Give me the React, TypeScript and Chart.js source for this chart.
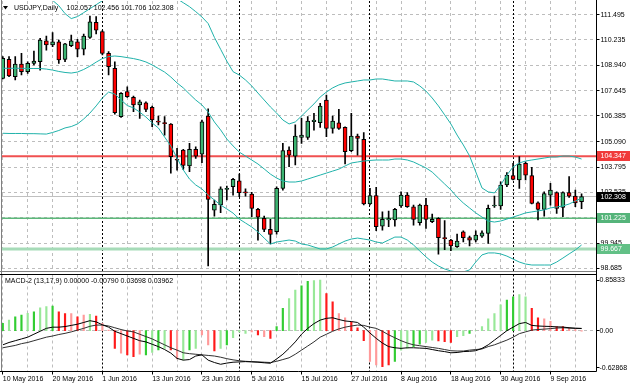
import React, { useEffect, useRef } from "react";
import { Chart, registerables } from "chart.js";

Chart.register(...registerables);

const FONT_FAMILY = '"Liberation Sans", Arial, sans-serif';
const FONT = `7px ${FONT_FAMILY}`;

// ---------------- data ----------------
const dateLabels = ["10 May 2016", "20 May 2016", "1 Jun 2016", "13 Jun 2016", "23 Jun 2016", "5 Jul 2016", "15 Jul 2016", "27 Jul 2016", "8 Aug 2016", "18 Aug 2016", "30 Aug 2016", "9 Sep 2016"];
const dateLabelBars = [0, 8, 16, 24, 32, 40, 48, 56, 64, 72, 80, 88];
const gridBars = [0, 4, 8, 12, 16, 20, 24, 28, 32, 36, 40, 44, 48, 52, 56, 60, 64, 68, 72, 76, 80, 84, 88, 92];
const separatorBars = [16, 38, 59, 82];
const priceTicks = [111.495, 110.235, 108.94, 107.645, 106.385, 105.09, 103.795, 102.535, 101.24, 99.945, 98.685];
const macdTicks = [0.85833, 0, -0.62868];
const macdTickLabels = ["0.85833", "0.00", "-0.62868"];
const resistanceLevel = 104.347;
const supportLevel = 101.225;
const lowerSupportLevel = 99.667;
const lastPrice = 102.308;
const titleSymbol = "USDJPY,Daily";
const titleValues = "102.057 102.456 101.706 102.308";
const macdTitle = "MACD-2 (13,17,9) 0.00000 -0.00790 0.03698 0.03962";

const openPrices = [108.28, 109.24, 108.37, 109.0, 108.62, 109.04, 109.12, 110.18, 109.97, 110.13, 109.24, 109.93, 110.13, 109.75, 110.35, 111.11, 110.64, 109.54, 108.79, 106.35, 107.61, 107.32, 106.94, 107.05, 106.82, 106.1, 106.02, 105.98, 104.17, 104.66, 103.86, 104.7, 104.45, 106.38, 101.63, 101.89, 102.68, 102.81, 103.11, 102.52, 102.44, 101.67, 101.21, 100.66, 100.54, 102.73, 104.66, 104.36, 105.3, 105.3, 106.09, 106.04, 107.19, 105.76, 106.04, 105.81, 104.63, 105.37, 105.2, 101.94, 102.36, 100.82, 101.13, 101.13, 101.84, 102.39, 101.8, 101.0, 101.89, 101.05, 101.21, 100.21, 100.12, 99.78, 100.54, 100.24, 100.12, 100.32, 100.46, 101.84, 101.84, 102.9, 103.37, 103.15, 103.99, 103.37, 102.0, 101.67, 102.39, 102.52, 101.77, 102.51, 102.34, 102.057];
const highPrices = [109.38, 109.38, 109.38, 109.54, 109.12, 109.66, 110.3, 110.42, 110.59, 110.22, 110.05, 110.47, 110.25, 110.52, 111.43, 111.4, 110.69, 109.63, 109.12, 107.56, 107.86, 107.39, 107.19, 107.1, 106.88, 106.38, 106.35, 106.0, 104.75, 104.7, 105.0, 104.83, 106.18, 106.75, 102.14, 102.81, 102.85, 103.23, 103.45, 102.7, 102.53, 101.72, 101.33, 101.16, 102.81, 105.0, 104.83, 105.93, 106.26, 106.35, 106.52, 107.02, 107.44, 106.38, 106.72, 105.84, 106.52, 105.47, 105.54, 102.73, 102.78, 101.55, 101.58, 101.72, 102.56, 102.51, 101.89, 101.94, 102.22, 101.43, 101.26, 101.1, 100.15, 100.42, 100.59, 100.32, 100.59, 100.59, 101.89, 102.34, 103.06, 103.52, 103.99, 104.33, 104.07, 103.79, 102.05, 102.56, 102.98, 102.56, 102.56, 103.32, 102.64, 102.456];
const lowPrices = [108.25, 108.37, 108.2, 108.45, 108.53, 108.96, 108.7, 109.71, 109.88, 109.04, 109.12, 109.88, 109.38, 109.46, 110.3, 110.52, 109.46, 108.45, 106.48, 106.31, 107.32, 106.6, 106.26, 106.6, 105.84, 105.93, 105.42, 103.49, 103.65, 103.69, 103.57, 104.24, 104.02, 98.81, 101.33, 101.5, 102.14, 102.39, 102.31, 102.34, 101.3, 100.12, 100.54, 99.92, 100.42, 102.64, 103.82, 103.91, 105.0, 105.2, 105.67, 105.81, 105.34, 105.51, 105.71, 103.96, 104.58, 104.41, 101.89, 101.89, 100.59, 100.62, 100.79, 100.82, 101.77, 101.77, 100.87, 100.87, 100.71, 101.0, 99.41, 99.64, 99.58, 99.75, 100.03, 99.82, 100.03, 100.25, 99.95, 101.77, 101.67, 102.81, 103.15, 102.73, 103.15, 101.94, 101.13, 101.33, 101.88, 101.47, 101.3, 102.27, 101.8, 101.706];
const closePrices = [109.29, 108.4, 109.0, 108.62, 109.04, 109.16, 110.22, 109.97, 110.13, 109.21, 110.02, 110.18, 109.75, 110.42, 111.14, 110.72, 109.54, 108.87, 106.55, 107.52, 107.36, 106.94, 107.1, 106.72, 106.18, 106.07, 106.0, 104.33, 104.15, 103.89, 104.7, 104.36, 106.09, 102.17, 101.92, 102.7, 102.73, 103.18, 102.51, 102.5, 101.72, 101.27, 100.66, 100.41, 102.73, 104.63, 104.41, 105.37, 105.42, 106.13, 106.18, 106.88, 105.76, 106.13, 105.76, 104.58, 105.37, 105.25, 101.94, 102.36, 100.79, 101.16, 101.2, 101.67, 102.39, 101.8, 101.16, 101.89, 101.16, 101.16, 100.24, 100.19, 99.82, 100.07, 100.24, 100.12, 100.37, 100.49, 101.72, 101.86, 102.9, 103.4, 103.18, 103.96, 103.4, 101.97, 101.67, 102.47, 102.64, 101.72, 102.51, 102.34, 102.0, 102.308];

const bbUpper = [112.55, 112.55, 112.55, 112.55, 112.52, 112.5, 112.45, 112.4, 112.22, 111.95, 111.55, 111.3, 111.4, 111.6, 111.8, 112.0, 112.2, 112.4, 112.5, 112.6, 112.65, 112.7, 112.7, 112.7, 112.65, 112.6, 112.5, 112.4, 112.3, 112.1, 111.9, 111.65, 111.38, 111.05, 110.35, 109.75, 109.15, 108.62, 108.45, 108.2, 107.9, 107.54, 107.19, 106.84, 106.53, 106.18, 105.98, 106.08, 106.38, 106.69, 106.99, 107.34, 107.59, 107.8, 107.95, 108.05, 108.1, 108.15, 108.2, 108.2, 108.25, 108.25, 108.2, 108.15, 108.15, 108.15, 108.1, 107.9, 107.64, 107.29, 106.89, 106.44, 105.98, 105.42, 104.92, 104.37, 103.56, 102.75, 102.55, 102.5, 102.9, 103.4, 103.81, 104.01, 104.11, 104.16, 104.21, 104.26, 104.31, 104.31, 104.36, 104.36, 104.31, 104.21];
const bbMiddle = [108.79, 108.79, 108.79, 108.79, 108.78, 108.78, 108.78, 108.75, 108.7, 108.63, 108.58, 108.55, 108.6, 108.73, 108.9, 109.1, 109.28, 109.38, 109.41, 109.38, 109.33, 109.28, 109.21, 109.11, 108.96, 108.78, 108.6, 108.35, 108.05, 107.8, 107.49, 107.19, 106.94, 106.58, 106.08, 105.68, 105.22, 104.87, 104.56, 104.36, 104.16, 103.96, 103.71, 103.45, 103.25, 103.1, 103.05, 103.05, 103.1, 103.2, 103.3, 103.4, 103.5, 103.6, 103.7, 103.86, 104.01, 104.06, 104.11, 104.14, 104.16, 104.16, 104.16, 104.21, 104.21, 104.16, 104.06, 103.91, 103.76, 103.55, 103.25, 102.95, 102.65, 102.29, 101.99, 101.74, 101.49, 101.28, 101.08, 101.03, 101.08, 101.18, 101.28, 101.38, 101.49, 101.54, 101.59, 101.64, 101.74, 101.79, 101.84, 101.94, 102.09, 102.24];
const bbLower = [105.51, 105.5, 105.5, 105.5, 105.49, 105.49, 105.48, 105.47, 105.55, 105.65, 105.78, 105.85, 105.98, 106.23, 106.53, 106.89, 107.29, 107.59, 107.49, 107.19, 106.91, 106.79, 106.58, 106.33, 106.03, 105.78, 105.32, 104.87, 104.26, 103.66, 103.2, 102.9, 102.7, 102.39, 102.14, 101.89, 101.69, 101.48, 101.18, 100.98, 100.78, 100.53, 100.22, 99.92, 100.02, 100.07, 100.12, 100.07, 99.92, 99.87, 99.77, 99.67, 99.67, 99.77, 99.92, 100.07, 100.17, 100.22, 100.17, 100.12, 100.02, 99.97, 100.12, 100.27, 100.27, 100.12, 99.87, 99.57, 99.27, 99.01, 98.81, 98.66, 98.56, 98.51, 98.51, 98.61, 99.01, 99.37, 99.47, 99.47, 99.42, 99.31, 99.16, 99.01, 98.91, 98.86, 98.86, 98.86, 98.86, 99.01, 99.21, 99.42, 99.62, 99.87];

const macdHistogram = [0.124, 0.18, 0.237, 0.265, 0.293, 0.32, 0.39, 0.41, 0.42, 0.32, 0.29, 0.29, 0.237, 0.265, 0.277, 0.248, 0.124, 0.01, -0.3, -0.38, -0.41, -0.44, -0.4, -0.41, -0.367, -0.327, -0.3, -0.327, -0.48, -0.497, -0.327, -0.3, -0.073, -0.24, -0.344, -0.3, -0.24, -0.12, -0.02, -0.045, -0.02, -0.073, -0.1, -0.13, 0.068, 0.378, 0.547, 0.688, 0.762, 0.84, 0.85, 0.858, 0.632, 0.49, 0.29, 0.22, 0.15, 0.05, -0.17, -0.52, -0.58, -0.61, -0.58, -0.52, -0.33, -0.3, -0.27, -0.23, -0.2, -0.16, -0.175, -0.186, -0.2, -0.1, -0.085, -0.045, 0.004, 0.068, 0.2, 0.29, 0.44, 0.52, 0.575, 0.615, 0.575, 0.38, 0.22, 0.2, 0.16, 0.07, 0.07, 0.05, 0.02, -0.0079];
const macdHistogramShade = "GgGGgGggGRRrRrgRrrRrRRrGgGgRrgGgrrRgGgggrRrRGGggGGggRRrrRRRrrRRGggGGggRRRggGgggggGGggRRrrRRrrrr".split("");
const macdLine = [-0.24, -0.2, -0.17, -0.14, -0.11, -0.06, -0.01, 0.04, 0.06, 0.06, 0.07, 0.09, 0.11, 0.14, 0.17, 0.15, 0.1, 0.06, -0.01, -0.05, -0.09, -0.13, -0.17, -0.19, -0.23, -0.27, -0.32, -0.38, -0.47, -0.5, -0.49, -0.43, -0.41, -0.5, -0.54, -0.57, -0.55, -0.535, -0.53, -0.525, -0.53, -0.535, -0.545, -0.553, -0.48, -0.4, -0.3, -0.19, -0.06, 0.04, 0.12, 0.18, 0.21, 0.22, 0.19, 0.165, 0.155, 0.14, 0.06, -0.04, -0.13, -0.21, -0.27, -0.29, -0.3, -0.29, -0.29, -0.295, -0.3, -0.32, -0.34, -0.355, -0.375, -0.37, -0.355, -0.35, -0.34, -0.3, -0.24, -0.16, -0.08, 0.0, 0.06, 0.12, 0.14, 0.09, 0.08, 0.075, 0.072, 0.065, 0.062, 0.05, 0.042, 0.037];
const macdSignal = [-0.29, -0.27, -0.25, -0.22, -0.2, -0.17, -0.14, -0.11, -0.09, -0.065, -0.045, -0.02, 0.01, 0.04, 0.075, 0.095, 0.096, 0.08, 0.05, 0.02, -0.005, -0.02, -0.06, -0.1, -0.14, -0.19, -0.24, -0.29, -0.33, -0.375, -0.39, -0.4, -0.41, -0.42, -0.43, -0.45, -0.475, -0.495, -0.51, -0.52, -0.525, -0.53, -0.535, -0.54, -0.52, -0.49, -0.46, -0.4, -0.33, -0.26, -0.19, -0.11, -0.06, -0.01, 0.03, 0.06, 0.08, 0.095, 0.09, 0.06, 0.04, -0.01, -0.07, -0.12, -0.17, -0.21, -0.24, -0.255, -0.27, -0.285, -0.3, -0.32, -0.34, -0.345, -0.345, -0.33, -0.32, -0.31, -0.27, -0.24, -0.2, -0.16, -0.11, -0.05, -0.02, 0.01, 0.02, 0.027, 0.035, 0.045, 0.05, 0.045, 0.04, 0.0396];

// ---------------- styling / geometry ----------------
const X_MIN = -0.1286;
const X_MAX = 95.4;
const PRICE_MIN = 98.507;
const PRICE_MAX = 112.187;
const MACD_MIN = -0.6928;
const MACD_MAX = 0.9543;
const AXIS_WIDTH = 33.5;
const GRID_COLOR = "#bdbdbd";
const BAND_COLOR = "#20b2aa";
const BULL_COLOR = "#3cb371";
const BEAR_COLOR = "#ff0000";
const SHADE_COLORS: Record<string, string> = { G: "#32cd32", g: "#98e898", R: "#ff1a1a", r: "#ff9a9a" };

const crisp = (v: number) => Math.floor(v) + 0.5;

function strokeLine(ctx: CanvasRenderingContext2D, x1: number, y1: number, x2: number, y2: number) {
  ctx.beginPath();
  ctx.moveTo(x1, y1);
  ctx.lineTo(x2, y2);
  ctx.stroke();
}

function drawVerticalGrid(chart: any) {
  const { ctx, chartArea: a } = chart;
  const x = chart.scales.x;
  ctx.save();
  ctx.lineWidth = 1;
  ctx.strokeStyle = GRID_COLOR;
  ctx.setLineDash([3, 3]);
  for (const b of gridBars) {
    if (separatorBars.includes(b)) continue;
    const px = crisp(x.getPixelForValue(b));
    strokeLine(ctx, px, a.top, px, a.bottom);
  }
  ctx.strokeStyle = "#000";
  ctx.setLineDash([2, 2]);
  for (const b of separatorBars) {
    const px = crisp(x.getPixelForValue(b));
    strokeLine(ctx, px, a.top, px, a.bottom);
  }
  ctx.restore();
}

function drawPriceBox(ctx: CanvasRenderingContext2D, y: any, value: number, fill: string, left: number) {
  const py = y.getPixelForValue(value);
  ctx.fillStyle = fill;
  ctx.fillRect(left + 0.5, Math.round(py) - 5, 630 - left, 10);
  ctx.fillStyle = "#fff";
  ctx.font = FONT;
  ctx.textAlign = "left";
  ctx.textBaseline = "middle";
  ctx.fillText(value.toFixed(3), left + 4, Math.round(py) + 0.5);
}

const mainPanelPlugin = {
  id: "mainPanel",
  beforeDatasetsDraw(chart: any) {
    const { ctx, chartArea: a } = chart;
    const y = chart.scales.y;
    ctx.save();
    ctx.lineWidth = 1;
    ctx.strokeStyle = GRID_COLOR;
    ctx.setLineDash([3, 3]);
    for (const v of priceTicks) {
      const py = crisp(y.getPixelForValue(v));
      strokeLine(ctx, a.left, py, a.right, py);
    }
    ctx.restore();
    drawVerticalGrid(chart);
    ctx.save();
    ctx.strokeStyle = "#a6dbb8";
    ctx.lineWidth = 3;
    let py = y.getPixelForValue(lowerSupportLevel);
    strokeLine(ctx, a.left, py, a.right, py);
    ctx.strokeStyle = "#c0c0c0";
    ctx.lineWidth = 1;
    py = crisp(y.getPixelForValue(lastPrice));
    strokeLine(ctx, a.left, py, a.right, py);
    ctx.strokeStyle = "#5cb87a";
    ctx.lineWidth = 1.5;
    py = y.getPixelForValue(supportLevel);
    strokeLine(ctx, a.left, py, a.right, py);
    ctx.strokeStyle = "#f05050";
    ctx.lineWidth = 2;
    py = y.getPixelForValue(resistanceLevel);
    strokeLine(ctx, a.left, py, a.right, py);
    ctx.restore();
  },
  afterDraw(chart: any) {
    const { ctx, chartArea: a } = chart;
    const y = chart.scales.y;
    ctx.save();
    ctx.lineWidth = 1;
    ctx.strokeStyle = "#808080";
    strokeLine(ctx, 1.5, 0, 1.5, chart.height);
    strokeLine(ctx, 0, crisp(a.bottom - 1), a.right, crisp(a.bottom - 1));
    ctx.strokeStyle = "#000";
    const rx = crisp(a.right);
    strokeLine(ctx, rx, 0, rx, chart.height);
    for (const v of priceTicks) {
      const py = crisp(y.getPixelForValue(v));
      strokeLine(ctx, rx, py, rx + 3, py);
    }
    drawPriceBox(ctx, y, resistanceLevel, "#f03a3a", rx);
    drawPriceBox(ctx, y, lastPrice, "#000", rx);
    drawPriceBox(ctx, y, supportLevel, "#55b47a", rx);
    drawPriceBox(ctx, y, lowerSupportLevel, "#62c086", rx);
    ctx.fillStyle = "#000";
    ctx.beginPath();
    ctx.moveTo(3, 6);
    ctx.lineTo(8, 6);
    ctx.lineTo(5.5, 9.5);
    ctx.closePath();
    ctx.fill();
    ctx.font = FONT;
    ctx.textAlign = "left";
    ctx.textBaseline = "middle";
    ctx.fillText(titleSymbol, 14, 8.5);
    ctx.fillText(titleValues, 66.5, 8.5);
    ctx.restore();
  },
};

const macdPanelPlugin = {
  id: "macdPanel",
  beforeDatasetsDraw(chart: any) {
    const { ctx, chartArea: a } = chart;
    const y = chart.scales.y;
    ctx.save();
    ctx.lineWidth = 1;
    ctx.strokeStyle = GRID_COLOR;
    ctx.setLineDash([3, 3]);
    const py = crisp(y.getPixelForValue(0));
    strokeLine(ctx, a.left, py, a.right, py);
    ctx.restore();
    drawVerticalGrid(chart);
  },
  afterDraw(chart: any) {
    const { ctx, chartArea: a } = chart;
    const x = chart.scales.x;
    const y = chart.scales.y;
    ctx.save();
    ctx.lineWidth = 1;
    ctx.strokeStyle = "#808080";
    strokeLine(ctx, 1.5, 0, 1.5, a.bottom);
    ctx.strokeStyle = "#000";
    strokeLine(ctx, 0, crisp(a.top), a.right, crisp(a.top));
    strokeLine(ctx, 0, crisp(a.bottom), a.right, crisp(a.bottom));
    const rx = crisp(a.right);
    strokeLine(ctx, rx, 0, rx, crisp(a.bottom));
    for (const v of macdTicks) {
      const py = crisp(y.getPixelForValue(v));
      strokeLine(ctx, rx, py, rx + 3, py);
    }
    for (const b of dateLabelBars) {
      const px = crisp(x.getPixelForValue(b));
      strokeLine(ctx, px, crisp(a.bottom), px, crisp(a.bottom) + 3);
    }
    ctx.fillStyle = "#000";
    ctx.font = FONT;
    ctx.textAlign = "left";
    ctx.textBaseline = "middle";
    ctx.fillText(macdTitle, 5, a.top + 6.5);
    ctx.restore();
  },
};

const zeroPadding = (s: any) => {
  s.paddingLeft = 0;
  s.paddingRight = 0;
  s.paddingTop = 0;
  s.paddingBottom = 0;
};

const tickFont = { family: FONT_FAMILY, size: 7 };

function mainConfig(): any {
  const bars = closePrices.map((_, i) => i);
  return {
    type: "bar",
    data: {
      datasets: [
        { type: "line", data: bars.map((i) => ({ x: i, y: bbUpper[i] })), borderColor: BAND_COLOR, borderWidth: 1, pointRadius: 0, order: 0 },
        { type: "line", data: bars.map((i) => ({ x: i, y: bbMiddle[i] })), borderColor: BAND_COLOR, borderWidth: 1, pointRadius: 0, order: 0 },
        { type: "line", data: bars.map((i) => ({ x: i, y: bbLower[i] })), borderColor: BAND_COLOR, borderWidth: 1, pointRadius: 0, order: 0 },
        {
          type: "bar",
          data: bars.map((i) => ({ x: i, y: [openPrices[i], closePrices[i]] })),
          backgroundColor: bars.map((i) => (closePrices[i] >= openPrices[i] ? BULL_COLOR : BEAR_COLOR)),
          borderColor: "#000",
          borderWidth: 1,
          borderSkipped: false,
          barThickness: 4,
          minBarLength: 1,
          grouped: false,
          order: 1,
        },
        {
          type: "bar",
          data: bars.map((i) => ({ x: i, y: [lowPrices[i], highPrices[i]] })),
          backgroundColor: "#000",
          borderWidth: 0,
          barThickness: 1,
          grouped: false,
          order: 2,
        },
      ],
    },
    options: {
      animation: false,
      responsive: false,
      events: [],
      layout: { padding: { left: 2, top: 1, bottom: 1, right: 0 } },
      plugins: { legend: { display: false }, tooltip: { enabled: false } },
      scales: {
        x: { type: "linear", min: X_MIN, max: X_MAX, offset: false, display: false },
        y: {
          type: "linear",
          position: "right",
          min: PRICE_MIN,
          max: PRICE_MAX,
          beginAtZero: false,
          afterBuildTicks: (s: any) => {
            s.ticks = priceTicks.map((v) => ({ value: v }));
          },
          afterFit: (s: any) => {
            s.width = AXIS_WIDTH;
            zeroPadding(s);
          },
          grid: { display: false, drawTicks: false },
          border: { display: false },
          ticks: { autoSkip: false, padding: 4, color: "#000", font: tickFont, callback: (v: any) => Number(v).toFixed(3) },
        },
      },
    },
    plugins: [mainPanelPlugin],
  };
}

function macdConfig(): any {
  const bars = macdHistogram.map((_, i) => i);
  return {
    type: "bar",
    data: {
      datasets: [
        { type: "line", data: bars.map((i) => ({ x: i, y: macdLine[i] })), borderColor: "#000", borderWidth: 1, pointRadius: 0, order: 0 },
        { type: "line", data: bars.map((i) => ({ x: i, y: macdSignal[i] })), borderColor: "#303030", borderWidth: 1, pointRadius: 0, order: 0 },
        {
          type: "bar",
          data: bars.map((i) => ({ x: i, y: macdHistogram[i] })),
          backgroundColor: bars.map((i) => SHADE_COLORS[macdHistogramShade[i]] || "#98e898"),
          borderWidth: 0,
          barThickness: 1.5,
          grouped: false,
          order: 1,
        },
      ],
    },
    options: {
      animation: false,
      responsive: false,
      events: [],
      layout: { padding: { left: 2, top: 1.5, bottom: 0, right: 0 } },
      plugins: { legend: { display: false }, tooltip: { enabled: false } },
      scales: {
        x: {
          type: "linear",
          min: X_MIN,
          max: X_MAX,
          offset: false,
          position: "bottom",
          afterBuildTicks: (s: any) => {
            s.ticks = dateLabelBars.map((v) => ({ value: v }));
          },
          afterFit: (s: any) => {
            s.height = 16.5;
            zeroPadding(s);
          },
          grid: { display: false, drawTicks: false },
          border: { display: false },
          ticks: {
            autoSkip: false,
            maxRotation: 0,
            minRotation: 0,
            align: "start",
            padding: 3,
            color: "#000",
            font: tickFont,
            callback: (_v: any, i: number) => dateLabels[i],
          },
        },
        y: {
          type: "linear",
          position: "right",
          min: MACD_MIN,
          max: MACD_MAX,
          beginAtZero: false,
          afterBuildTicks: (s: any) => {
            s.ticks = macdTicks.map((v) => ({ value: v }));
          },
          afterFit: (s: any) => {
            s.width = AXIS_WIDTH;
            zeroPadding(s);
          },
          grid: { display: false, drawTicks: false },
          border: { display: false },
          ticks: { autoSkip: false, padding: 3, color: "#000", font: tickFont, callback: (_v: any, i: number) => macdTickLabels[i] },
        },
      },
    },
    plugins: [macdPanelPlugin],
  };
}

export default function App() {
  const mainRef = useRef<HTMLCanvasElement>(null);
  const macdRef = useRef<HTMLCanvasElement>(null);
  useEffect(() => {
    Chart.defaults.font.family = FONT_FAMILY;
    const c1 = new Chart(mainRef.current as HTMLCanvasElement, mainConfig());
    const c2 = new Chart(macdRef.current as HTMLCanvasElement, macdConfig());
    return () => {
      c1.destroy();
      c2.destroy();
    };
  }, []);
  return (
    <div style={{ position: "fixed", left: 0, top: 0, width: 630, height: 388, background: "#fff", overflow: "hidden" }}>
      <canvas ref={mainRef} width={630} height={273} style={{ position: "absolute", left: 0, top: 0 }} />
      <canvas ref={macdRef} width={630} height={115} style={{ position: "absolute", left: 0, top: 273 }} />
    </div>
  );
}
